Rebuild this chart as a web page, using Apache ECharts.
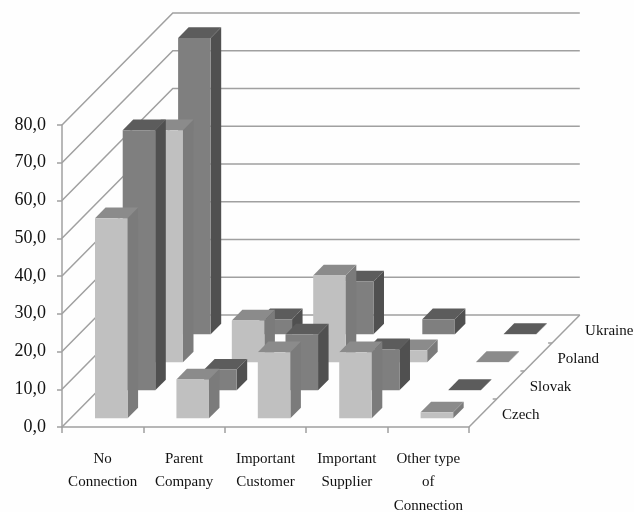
<!DOCTYPE html>
<html>
<head>
<meta charset="utf-8">
<style>html,body{margin:0;padding:0;background:#fff}#c{width:634px;height:512px}</style>
<script src="https://cdn.jsdelivr.net/npm/echarts@6/dist/echarts.min.js"></script>
</head>
<body>
<div id="c"></div>
<script>
const categories = ['No\nConnection', 'Parent\nCompany', 'Important\nCustomer', 'Important\nSupplier', 'Other type\nof\nConnection'];
const rowNames = ['Czech', 'Slovak', 'Poland', 'Ukraine'];
const czech = [53, 10.3, 17.5, 17.5, 1.6];
const slovak = [68.9, 5.5, 14.8, 10.9, 0.1];
const poland = [61.5, 11.1, 23, 3.2, 0.1];
const ukraine = [78.5, 4, 14, 4, 0.1];
const yTicks = [0, 10, 20, 30, 40, 50, 60, 70, 80];

const stepX = 27.7, stepY = 28;
const light = { front: '#c0c0c0', side: '#7b7b7b', top: '#8b8b8b' };
const dark = { front: '#7f7f7f', side: '#505050', top: '#5c5c5c' };
const font = '"Liberation Serif","Times New Roman",serif';
const textColor = '#111';

function barSeries(name, values, row, shade) {
  return {
    type: 'custom', name, silent: true, z: 3 + (3 - row), animation: false,
    data: values.map((v, i) => [i, v]),
    encode: { x: 0, y: 1 },
    renderItem(params, api) {
      const i = api.value(0), v = api.value(1);
      const top = api.coord([i, v]), base = api.coord([i, 0]);
      const w = api.size([1, 0])[0] * 0.4;
      const off = row + 0.31, d = 0.38;
      const x0 = top[0] - w / 2 + off * stepX, x1 = x0 + w;
      const yt = top[1] - off * stepY, yb = base[1] - off * stepY;
      const ox = d * stepX, oy = d * stepY;
      const poly = (pts, fill) => ({ type: 'polygon', shape: { points: pts }, style: { fill } });
      return { type: 'group', children: [
        poly([[x1, yt], [x1 + ox, yt - oy], [x1 + ox, yb - oy], [x1, yb]], shade.side),
        poly([[x0, yt], [x0 + ox, yt - oy], [x1 + ox, yt - oy], [x1, yt]], shade.top),
        poly([[x0, yt], [x1, yt], [x1, yb], [x0, yb]], shade.front)
      ] };
    }
  };
}

const lineStyle = { stroke: '#a0a0a0', lineWidth: 1.5, fill: null };
const wallSeries = {
  type: 'custom', silent: true, z: 1, animation: false,
  data: yTicks.map(t => [0, t]),
  encode: { x: 0, y: 1 },
  renderItem(params, api) {
    const cs = params.coordSys;
    const y = api.coord([0, api.value(1)])[1];
    const bx = 4 * stepX, by = 4 * stepY;
    const children = [{ type: 'polyline', shape: { points: [[cs.x, y], [cs.x + bx, y - by], [cs.x + cs.width + bx, y - by]] }, style: lineStyle }];
    if (api.value(1) === 0) {
      children.push({ type: 'line', shape: { x1: cs.x + cs.width, y1: y, x2: cs.x + cs.width + bx, y2: y - by }, style: lineStyle });
      for (let r = 1; r < 4; r++) {
        const tx = cs.x + cs.width + r * stepX, ty = y - r * stepY;
        children.push({ type: 'line', shape: { x1: tx, y1: ty, x2: tx - 4, y2: ty }, style: lineStyle });
      }
    }
    return { type: 'group', children };
  }
};

const rowLabelSeries = {
  type: 'custom', silent: true, z: 2, animation: false,
  data: rowNames.map((n, i) => [4, 0, n, i]),
  encode: { x: 0, y: 1 },
  renderItem(params, api) {
    const cs = params.coordSys;
    const y = api.coord([0, 0])[1];
    const r = api.value(3);
    return {
      type: 'text',
      style: {
        x: cs.x + cs.width + r * stepX + 33, y: y - r * stepY - 12,
        text: rowNames[r], fill: textColor, font: '15px ' + font,
        textAlign: 'left', textVerticalAlign: 'middle'
      }
    };
  }
};

const chart = echarts.init(document.getElementById('c'), null, { renderer: 'canvas' });
chart.setOption({
  animation: false,
  backgroundColor: '#fefefe',
  grid: { left: 62, right: 165, top: 125, bottom: 85, containLabel: false, outerBoundsMode: 'none' },
  xAxis: {
    type: 'category', data: categories, boundaryGap: true,
    axisLine: { lineStyle: { color: '#a0a0a0', width: 1.5 } },
    axisTick: { show: true, length: 6, lineStyle: { color: '#a0a0a0', width: 1.5 } },
    axisLabel: { interval: 0, margin: 20, color: textColor, fontFamily: font, fontSize: 15, lineHeight: 23.5, align: 'center', hideOverlap: false },
    splitLine: { show: false }
  },
  yAxis: {
    type: 'value', min: 0, max: 80, interval: 10,
    axisLine: { show: true, lineStyle: { color: '#a0a0a0', width: 1.5 } },
    axisTick: { show: true, length: 5, lineStyle: { color: '#a0a0a0', width: 1.5 } },
    axisLabel: { margin: 16, color: textColor, fontFamily: font, fontSize: 18, padding: [3, 0, 0, 0], formatter: v => v.toFixed(1).replace('.', ',') },
    splitLine: { show: false }
  },
  series: [
    wallSeries,
    rowLabelSeries,
    barSeries('Ukraine', ukraine, 3, dark),
    barSeries('Poland', poland, 2, light),
    barSeries('Slovak', slovak, 1, dark),
    barSeries('Czech', czech, 0, light)
  ]
});
</script>
</body>
</html>
